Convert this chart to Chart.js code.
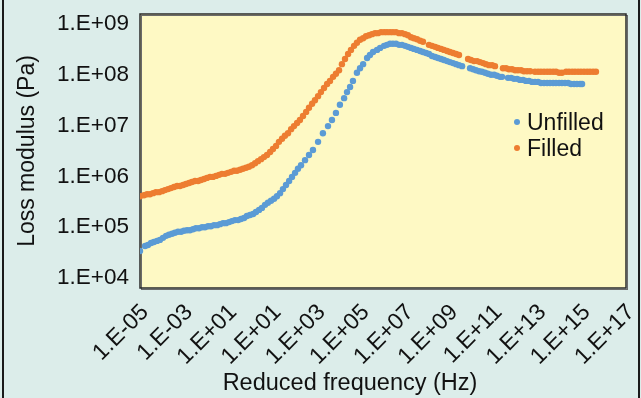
<!DOCTYPE html>
<html>
<head>
<meta charset="utf-8">
<script src="https://cdn.jsdelivr.net/npm/chart.js@4.4.1/dist/chart.umd.min.js"></script>
<style>
  html, body { margin: 0; padding: 0; background: #dcedea; }
  #wrap { width: 641px; height: 398px; }
</style>
</head>
<body>
<div id="wrap"><canvas id="lossChart" width="641" height="398"></canvas></div>
<script>
// log10 of reduced frequency (Hz) and log10 of loss modulus (Pa)
const unfilledLogFreq = [
  -5.00, -4.77, -4.64, -4.50, -4.37, -4.23, -4.10, -3.96, -3.82, -3.69,
  -3.55, -3.42, -3.28, -3.14, -3.01, -2.87, -2.74, -2.60, -2.47, -2.33,
  -2.19, -2.06, -1.92, -1.79, -1.65, -1.51, -1.38, -1.24, -1.11, -0.97,
  -0.84, -0.70, -0.56, -0.43, -0.29, -0.16, -0.02, 0.12, 0.25, 0.39,
  0.52, 0.66, 0.79, 0.93, 1.07, 1.20, 1.34, 1.47, 1.61, 1.75,
  1.88, 2.02, 2.15, 2.29, 2.47, 2.65, 2.83, 3.06, 3.28, 3.51,
  3.69, 3.87, 4.05, 4.24, 4.37, 4.51, 4.64, 4.82, 4.96, 5.10,
  5.28, 5.41, 5.55, 5.73, 5.87, 6.05, 6.18, 6.32, 6.45, 6.59,
  6.73, 6.86, 7.00, 7.13, 7.27, 7.40, 7.54, 7.68, 7.81, 7.95,
  8.08, 8.22, 8.36, 8.49, 8.63, 8.76, 8.90, 9.03, 9.17, 9.31,
  9.44, 9.58,
  9.94, 10.08, 10.21, 10.35, 10.48, 10.62, 10.75, 10.89, 11.03, 11.16, 11.30, 11.39,
  11.66, 11.80, 11.93, 12.07, 12.20, 12.34, 12.47, 12.61, 12.75, 12.88,
  13.02, 13.15, 13.29, 13.43, 13.56, 13.70, 13.83, 13.97, 14.10, 14.24,
  14.38, 14.51, 14.65, 14.78, 14.92, 15.01
];
const unfilledLogLoss = [
  4.53, 4.63, 4.65, 4.69, 4.71, 4.73, 4.75, 4.79, 4.83, 4.85,
  4.87, 4.89, 4.91, 4.91, 4.93, 4.94, 4.94, 4.96, 4.98, 4.98,
  5.00, 5.00, 5.02, 5.02, 5.04, 5.04, 5.06, 5.08, 5.08, 5.10,
  5.12, 5.14, 5.14, 5.16, 5.18, 5.22, 5.24, 5.26, 5.30, 5.34,
  5.38, 5.44, 5.48, 5.52, 5.56, 5.61, 5.67, 5.75, 5.83, 5.91,
  5.99, 6.07, 6.15, 6.22, 6.32, 6.42, 6.52, 6.68, 6.85, 6.99,
  7.11, 7.25, 7.41, 7.54, 7.66, 7.76, 7.88, 8.04, 8.13, 8.21,
  8.33, 8.39, 8.45, 8.49, 8.53, 8.57, 8.59, 8.61, 8.61, 8.61,
  8.59, 8.59, 8.57, 8.55, 8.53, 8.51, 8.49, 8.47, 8.45, 8.43,
  8.41, 8.37, 8.35, 8.33, 8.31, 8.29, 8.27, 8.25, 8.23, 8.21,
  8.19, 8.17,
  8.13, 8.11, 8.09, 8.07, 8.06, 8.04, 8.02, 8.00, 8.00, 7.98, 7.96, 7.96,
  7.94, 7.94, 7.92, 7.92, 7.90, 7.90, 7.88, 7.88, 7.86, 7.86,
  7.86, 7.84, 7.84, 7.84, 7.84, 7.84, 7.84, 7.84, 7.84, 7.84,
  7.84, 7.82, 7.82, 7.82, 7.82, 7.82
];

const filledLogFreq = [
  -5.00, -4.82, -4.68, -4.55, -4.41, -4.28, -4.14, -4.00, -3.87, -3.73,
  -3.60, -3.46, -3.32, -3.19, -3.05, -2.92, -2.78, -2.65, -2.51, -2.37,
  -2.24, -2.10, -1.97, -1.83, -1.70, -1.56, -1.42, -1.29, -1.15, -1.02,
  -0.88, -0.74, -0.61, -0.47, -0.34, -0.20, -0.07, 0.07, 0.21, 0.34,
  0.48, 0.61, 0.75, 0.89, 1.02, 1.16, 1.29, 1.43, 1.56, 1.70,
  1.84, 1.97, 2.11, 2.24, 2.38, 2.52, 2.65, 2.79, 2.92, 3.06,
  3.19, 3.33, 3.47, 3.60, 3.74, 3.87, 4.01, 4.14, 4.28, 4.42,
  4.55, 4.69, 4.82, 4.96, 5.10, 5.23, 5.37, 5.50, 5.64, 5.77,
  5.91, 6.05, 6.18, 6.32, 6.45, 6.59, 6.73, 6.86, 7.00, 7.13,
  7.27, 7.40, 7.54, 7.68, 7.81,
  8.08, 8.22, 8.36, 8.49, 8.63, 8.76, 8.90, 9.03, 9.17, 9.31, 9.44,
  9.85, 9.98, 10.12, 10.26, 10.39, 10.53, 10.66, 10.80, 10.94, 11.07,
  11.43, 11.57, 11.70, 11.84, 11.98, 12.11, 12.25, 12.38, 12.52, 12.66,
  12.88, 13.02, 13.15, 13.29, 13.43, 13.56, 13.70, 13.83, 13.97, 14.10,
  14.29, 14.42, 14.56, 14.69, 14.83, 14.96, 15.10, 15.24, 15.37, 15.51, 15.64
];
const filledLogLoss = [
  5.61, 5.63, 5.65, 5.65, 5.67, 5.69, 5.69, 5.71, 5.73, 5.75,
  5.77, 5.79, 5.81, 5.81, 5.83, 5.85, 5.87, 5.89, 5.91, 5.91,
  5.93, 5.95, 5.97, 5.99, 5.99, 6.01, 6.03, 6.05, 6.05, 6.07,
  6.09, 6.11, 6.11, 6.13, 6.15, 6.17, 6.19, 6.22, 6.26, 6.30,
  6.34, 6.38, 6.42, 6.48, 6.54, 6.60, 6.68, 6.74, 6.80, 6.85,
  6.93, 6.99, 7.05, 7.11, 7.19, 7.27, 7.35, 7.43, 7.50, 7.58,
  7.66, 7.74, 7.82, 7.88, 7.96, 8.02, 8.09, 8.21, 8.31, 8.41,
  8.49, 8.57, 8.63, 8.69, 8.72, 8.76, 8.78, 8.80, 8.82, 8.82,
  8.84, 8.84, 8.84, 8.84, 8.84, 8.84, 8.82, 8.82, 8.80, 8.78,
  8.74, 8.72, 8.70, 8.67, 8.65,
  8.59, 8.57, 8.55, 8.53, 8.51, 8.49, 8.47, 8.45, 8.43, 8.41, 8.39,
  8.31, 8.29, 8.27, 8.27, 8.25, 8.23, 8.21, 8.19, 8.19, 8.17,
  8.13, 8.13, 8.11, 8.11, 8.09, 8.09, 8.09, 8.07, 8.07, 8.07,
  8.06, 8.06, 8.06, 8.06, 8.06, 8.06, 8.06, 8.06, 8.04, 8.04,
  8.06, 8.06, 8.06, 8.06, 8.06, 8.06, 8.06, 8.06, 8.06, 8.06, 8.06
];

// axis ticks (labels exactly as printed on the figure)
const xTickExp = [-5, -3, -1, 1, 3, 5, 7, 9, 11, 13, 15, 17];
const xTickLabels = ['1.E-05', '1.E-03', '1.E+01', '1.E+01', '1.E+03', '1.E+05',
                     '1.E+07', '1.E+09', '1.E+11', '1.E+13', '1.E+15', '1.E+17'];
const yTickExp = [4, 5, 6, 7, 8, 9];
const yTickLabels = ['1.E+04', '1.E+05', '1.E+06', '1.E+07', '1.E+08', '1.E+09'];

const FONT = '"Liberation Sans", Arial, Helvetica, sans-serif';
const TEXT = '#111111';

function toPoints(logF, logG) {
    return logF.map((f, i) => ({ x: Math.pow(10, f), y: Math.pow(10, logG[i]) }));
}

// fondo, marco del grafico, titulo eje x y leyenda
const decor = {
    id: 'decor',
    beforeDraw(chart) {
        const { ctx, chartArea: a, width, height } = chart;
        ctx.save();
        ctx.fillStyle = '#dcedea';
        ctx.fillRect(0, 0, width, height);
        ctx.fillStyle = '#fef9c4';
        ctx.fillRect(a.left, a.top, a.right - a.left, a.bottom - a.top);
        ctx.fillStyle = '#1a1a1a';
        ctx.fillRect(2, 0, 2, height);
        ctx.fillRect(638, 0, 2, height);
        ctx.restore();
    },
    beforeDatasetsDraw(chart) {
        const { ctx, chartArea: a } = chart;
        ctx.save();
        ctx.strokeStyle = '#6b6b6b';
        ctx.lineWidth = 1;
        ctx.strokeRect(a.left + 1.5, a.top + 1.5, a.right - a.left, a.bottom - a.top);
        ctx.strokeStyle = '#2a2a2a';
        ctx.lineWidth = 1.5;
        ctx.strokeRect(a.left, a.top, a.right - a.left, a.bottom - a.top);
        ctx.restore();
    },
    afterDraw(chart) {
        const { ctx } = chart;
        ctx.save();
        ctx.fillStyle = TEXT;
        ctx.font = '23.5px ' + FONT;
        ctx.textAlign = 'center';
        ctx.textBaseline = 'alphabetic';
        ctx.fillText('Reduced frequency (Hz)', 350, 390);

        // leyenda dentro del area del grafico
        ctx.font = '23px ' + FONT;
        ctx.textAlign = 'left';
        chart.data.datasets.forEach((ds, i) => {
            const y = 122 + i * 26;
            ctx.fillStyle = ds.backgroundColor;
            ctx.beginPath();
            ctx.arc(517, y, 3, 0, Math.PI * 2);
            ctx.fill();
            ctx.fillStyle = TEXT;
            ctx.fillText(ds.label, 527, y + 8);
        });
        ctx.restore();
    }
};

const lossChart = new Chart(document.getElementById('lossChart'), {
    type: 'scatter',
    data: {
        datasets: [
            {
                label: 'Unfilled',
                data: toPoints(unfilledLogFreq, unfilledLogLoss),
                backgroundColor: '#5b9bd5',
                borderWidth: 0,
                pointRadius: 3.2,
                pointHoverRadius: 3.2
            },
            {
                label: 'Filled',
                data: toPoints(filledLogFreq, filledLogLoss),
                backgroundColor: '#ed7d31',
                borderWidth: 0,
                pointRadius: 3.2,
                pointHoverRadius: 3.2
            }
        ]
    },
    options: {
        responsive: false,
        animation: false,
        devicePixelRatio: 1,
        layout: { padding: { top: 14, right: 15, left: 0, bottom: 0 } },
        plugins: {
            legend: { display: false },
            tooltip: { enabled: false }
        },
        scales: {
            x: {
                type: 'logarithmic',
                min: 1e-5,
                max: 1e17,
                grid: { display: false },
                border: { display: false },
                afterBuildTicks: (scale) => {
                    scale.ticks = xTickExp.map(e => ({ value: Math.pow(10, e) }));
                },
                afterFit: (scale) => {
                    scale.height = 110;
                    scale.paddingLeft = 0;
                    scale.paddingRight = 0;
                },
                ticks: {
                    autoSkip: false,
                    maxRotation: 45,
                    minRotation: 45,
                    padding: 3,
                    labelOffset: 5,
                    color: TEXT,
                    font: { family: FONT, size: 23 },
                    callback: (value, index) => xTickLabels[index]
                }
            },
            y: {
                type: 'logarithmic',
                min: Math.pow(10, 3.803),
                max: Math.pow(10, 9.197),
                grid: { display: false },
                border: { display: false },
                afterBuildTicks: (scale) => {
                    scale.ticks = yTickExp.map(e => ({ value: Math.pow(10, e) }));
                },
                afterFit: (scale) => {
                    scale.width = 140;
                    scale.paddingTop = 0;
                    scale.paddingBottom = 0;
                },
                ticks: {
                    padding: 3,
                    color: TEXT,
                    font: { family: FONT, size: 22.5 },
                    callback: (value, index) => yTickLabels[index]
                },
                title: {
                    display: true,
                    text: 'Loss modulus (Pa)',
                    color: TEXT,
                    font: { family: FONT, size: 23 },
                    padding: { top: 14, bottom: 0 }
                }
            }
        }
    },
    plugins: [decor]
});
</script>
</body>
</html>
